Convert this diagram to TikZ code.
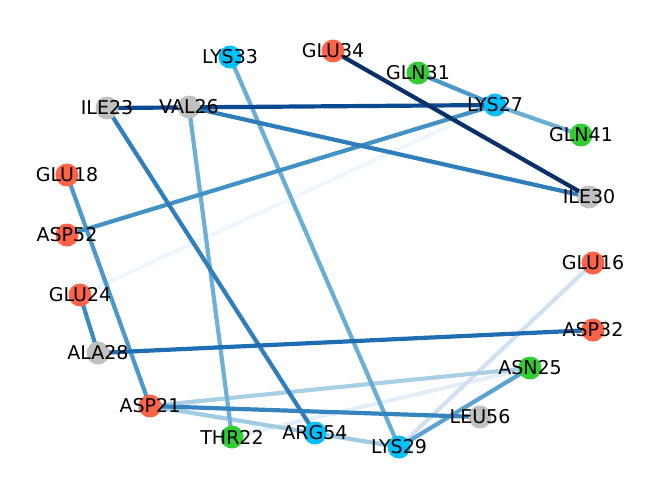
\documentclass[tikz,border=0pt]{standalone}
\usepackage{fontspec}
\setmainfont{DejaVu Sans}
\usetikzlibrary{backgrounds}

\definecolor{tomato}{HTML}{FF6347}
\definecolor{skyblue}{HTML}{00BFFF}
\definecolor{limegreen}{HTML}{32CD32}
\definecolor{silver}{HTML}{C0C0C0}

\begin{document}
\begin{tikzpicture}[x=1pt,y=-1pt,
  res/.style={circle,inner sep=0pt,minimum size=23pt},
  every label/.style={font=\fontsize{19}{21}\selectfont,inner sep=0pt},
  link/.style={line width=4.2pt}]
\useasboundingbox (0,0) rectangle (660,499);

\foreach \n/\x/\y/\c in {LYS33/230/57/skyblue, GLU34/333/51/tomato, GLN31/418/73/limegreen,
  LYS27/495/105/skyblue, GLN41/581/135/limegreen, ILE23/107/108/silver, VAL26/189/107/silver,
  GLU18/67/175/tomato, ILE30/589/197/silver, ASP52/67/235/tomato, GLU16/593/263/tomato,
  GLU24/80/295/tomato, ASP32/593/330/tomato, ALA28/98/353/silver, ASN25/530/368/limegreen,
  ASP21/150/406/tomato, LEU56/480/417/silver, THR22/232/437/limegreen, ARG54/315/433/skyblue,
  LYS29/399/447/skyblue}
  \node[res,fill=\c,label=center:\n] (\n) at (\x,\y) {};

\begin{scope}[on background layer]
\foreach \a/\b/\c in {LYS27/GLU24/F0F6FD, ASN25/THR22/E3EEF9, GLU16/LYS29/D0E1F2,
  ASN25/ASP21/A9CFE5, ASP21/LYS29/A0CBE2, LYS27/GLN41/6AAED6, VAL26/THR22/6DAFD7,
  LYS33/LYS29/6AAED6, ASN25/LYS29/5BA3D0, GLN31/LYS27/4A98C9, GLU18/ASP21/4B98CA,
  LYS27/ASP52/4292C6, GLU24/ALA28/3A8AC2, ASP21/LEU56/3583BF, ILE23/ARG54/2F7FBC,
  VAL26/ILE30/2E7EBC, ALA28/ASP32/1F6EB3, ILE23/LYS27/0A4A90, GLU34/ILE30/08306B}
  {\definecolor{linkcol}{HTML}{\c}
   \draw[link,linkcol] (\a.center) -- (\b.center);}
\end{scope}
\end{tikzpicture}
\end{document}
